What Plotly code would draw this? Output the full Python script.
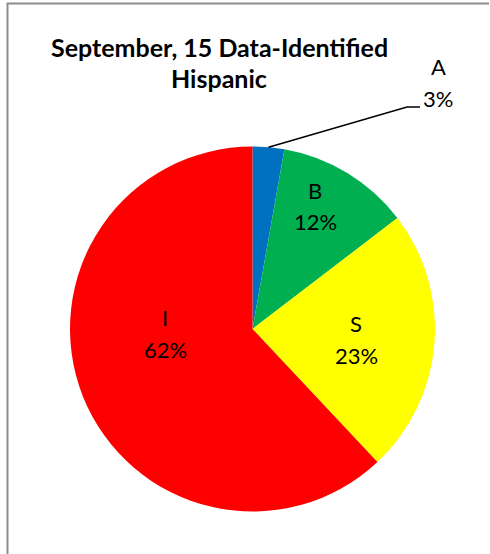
import math
import plotly.graph_objects as go

labels = ["A", "B", "S", "I"]
values = [2.8, 11.8, 23.4, 62.0]
colors = ["#0070C0", "#00B050", "#FFFF00", "#FF0000"]
title_lines = ["September, 15 Data-Identified", "Hispanic"]

W, H = 490, 554
cx, cy, r = 252.5, 329, 182.5
# label centres (px) for the name line; percent line sits 32px lower
label_pos = [(438, 67), (315, 190), (356, 323), (165, 317)]
line_gap = 32
FONT = "Lato, Open Sans, sans-serif"


def px(x, y):
    return x / W, 1 - y / H


fig = go.Figure()
fig.add_trace(go.Pie(
    labels=labels, values=values, sort=False, direction="clockwise", rotation=0,
    marker=dict(colors=colors, line=dict(width=0)),
    textinfo="none", showlegend=False, hoverinfo="label+percent",
    domain=dict(x=[(cx - r) / W, (cx + r) / W], y=[1 - (cy + r) / H, 1 - (cy - r) / H]),
))

total = sum(values)
for lab, val, (lx, ly) in zip(labels, values, label_pos):
    for i, t in enumerate([lab, f"{round(val / total * 100)}%"]):
        x, y = px(lx, ly + i * line_gap)
        fig.add_annotation(xref="paper", yref="paper", x=x, y=y, text=t,
                           showarrow=False, xanchor="center", yanchor="middle",
                           font=dict(family=FONT, size=22, color="black"))

# leader line for slice A
ang = math.radians(values[0] / total * 360 / 2)
ex, ey = cx + r * math.sin(ang), cy - r * math.cos(ang)
kx, ky = 407, 107
x0, y0 = px(ex, ey)
x1, y1 = px(kx, ky)
x2, y2 = px(kx + 13, ky)
fig.add_shape(type="path", xref="paper", yref="paper",
              path=f"M {x0},{y0} L {x1},{y1} L {x2},{y2}",
              line=dict(color="black", width=1.5))

# title
for i, t in enumerate(title_lines):
    x, y = px(219, 47 + i * 31)
    fig.add_annotation(xref="paper", yref="paper", x=x, y=y, text=f"<b>{t}</b>",
                       showarrow=False, xanchor="center", yanchor="middle",
                       font=dict(family=FONT, size=25, color="black"))

# chart border (top and left visible)
bx, by = px(7.5, 3.5)
fig.add_shape(type="path", xref="paper", yref="paper",
              path=f"M {bx},0 L {bx},{by} L {(W - 1) / W},{by}",
              line=dict(color="#8C8C8C", width=2))

fig.update_layout(width=W, height=H, margin=dict(l=0, r=0, t=0, b=0),
                  paper_bgcolor="white", plot_bgcolor="white")

html = fig.to_html(full_html=True, include_plotlyjs=True,
                   config={"displayModeBar": False})
html = html.replace(
    "<body>",
    '<body style="margin:0;padding:0;overflow:hidden;background:#ffffff">', 1)
html = html.replace("<head>", "<head><style>html{margin:0;padding:0;overflow:hidden;background:#fff}</style>", 1)
with open("out.html", "w", encoding="utf-8") as f:
    f.write(html)
